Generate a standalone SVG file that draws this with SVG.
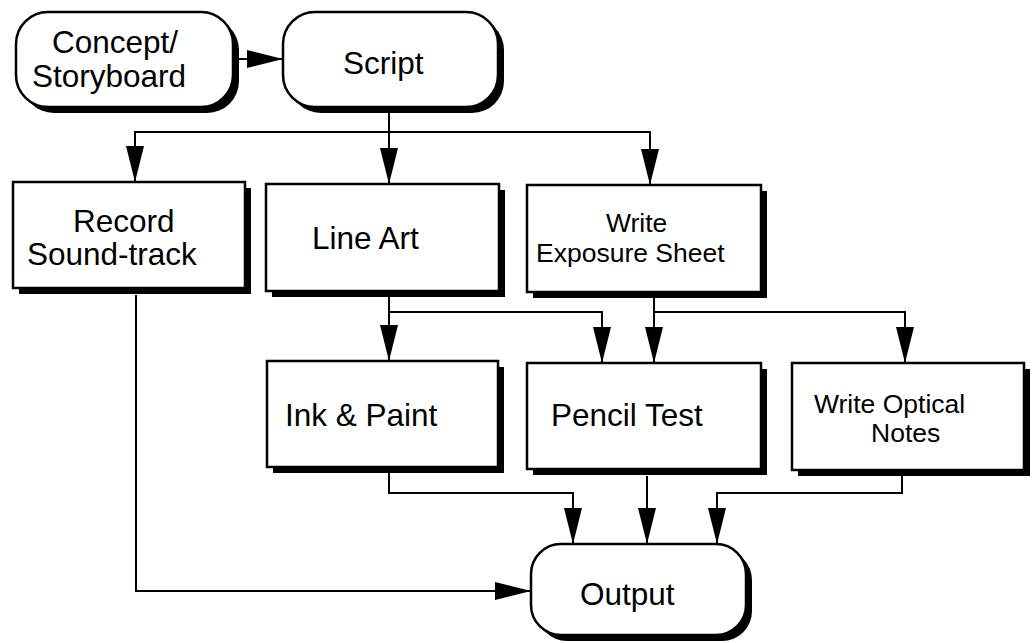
<svg xmlns="http://www.w3.org/2000/svg" width="1036" height="643" viewBox="0 0 1036 643">
<style>
.box{fill:#fff;stroke:#000;stroke-width:2.5}
.sh{fill:#000}
.t{font-family:"Liberation Sans",Arial,sans-serif;font-size:31.5px;fill:#000}
.s{font-size:26.5px}
.c{fill:none;stroke:#000;stroke-width:2}
</style>
<defs>
<marker id="a" markerUnits="userSpaceOnUse" markerWidth="36" markerHeight="18" refX="36" refY="9" orient="auto">
<path d="M0,0 L36,9 L0,18 z" fill="#000"/>
</marker>
</defs>
<rect width="1036" height="643" fill="#fff"/>
<g id="connectors">
<path class="c" d="M238,59 H283" marker-end="url(#a)"/>
<path class="c" d="M389,113 V184" marker-end="url(#a)"/>
<path class="c" d="M389,132 H135 V182" marker-end="url(#a)"/>
<path class="c" d="M389,132 H650 V185" marker-end="url(#a)"/>
<path class="c" d="M389,297 V361" marker-end="url(#a)"/>
<path class="c" d="M389,312 H602 V363" marker-end="url(#a)"/>
<path class="c" d="M654,297 V363" marker-end="url(#a)"/>
<path class="c" d="M654,312 H905 V363" marker-end="url(#a)"/>
<path class="c" d="M389,473 V493 H573 V544" marker-end="url(#a)"/>
<path class="c" d="M647,476 V544" marker-end="url(#a)"/>
<path class="c" d="M902,476 V493 H717 V544" marker-end="url(#a)"/>
<path class="c" d="M136,295 V591 H531" marker-end="url(#a)"/>
</g>
<g id="concept">
<rect class="sh" x="22" y="18" width="217" height="95" rx="32"/>
<rect class="box" x="16" y="12" width="217" height="95" rx="32"/>
<text class="t" x="52" y="53">Concept/</text>
<text class="t" x="32" y="87">Storyboard</text>
</g>
<g id="script">
<rect class="sh" x="289" y="18" width="215" height="95" rx="32"/>
<rect class="box" x="283" y="12" width="215" height="95" rx="32"/>
<text class="t" x="343" y="74">Script</text>
</g>
<g id="record">
<rect class="sh" x="19" y="188" width="232" height="106"/>
<rect class="box" x="13" y="182" width="232" height="106"/>
<text class="t" x="73" y="232">Record</text>
<text class="t" x="27" y="265">Sound-track</text>
</g>
<g id="lineart">
<rect class="sh" x="272" y="190" width="233" height="107"/>
<rect class="box" x="266" y="184" width="233" height="107"/>
<text class="t" x="312" y="249">Line Art</text>
</g>
<g id="exposure">
<rect class="sh" x="533" y="191" width="234" height="107"/>
<rect class="box" x="527" y="185" width="234" height="107"/>
<text class="t s" x="606" y="232">Write</text>
<text class="t s" x="536" y="262">Exposure Sheet</text>
</g>
<g id="ink">
<rect class="sh" x="273" y="367" width="231" height="106"/>
<rect class="box" x="267" y="361" width="231" height="106"/>
<text class="t" x="285" y="426">Ink &amp; Paint</text>
</g>
<g id="pencil">
<rect class="sh" x="533" y="369" width="234" height="106"/>
<rect class="box" x="527" y="363" width="234" height="106"/>
<text class="t" x="551" y="426">Pencil Test</text>
</g>
<g id="optical">
<rect class="sh" x="798" y="369" width="232" height="107"/>
<rect class="box" x="792" y="363" width="232" height="107"/>
<text class="t s" x="814" y="413">Write Optical</text>
<text class="t s" x="871" y="442">Notes</text>
</g>
<g id="output">
<rect class="sh" x="537" y="550" width="215" height="91" rx="30"/>
<rect class="box" x="531" y="544" width="215" height="91" rx="30"/>
<text class="t" x="580" y="605">Output</text>
</g>
</svg>
